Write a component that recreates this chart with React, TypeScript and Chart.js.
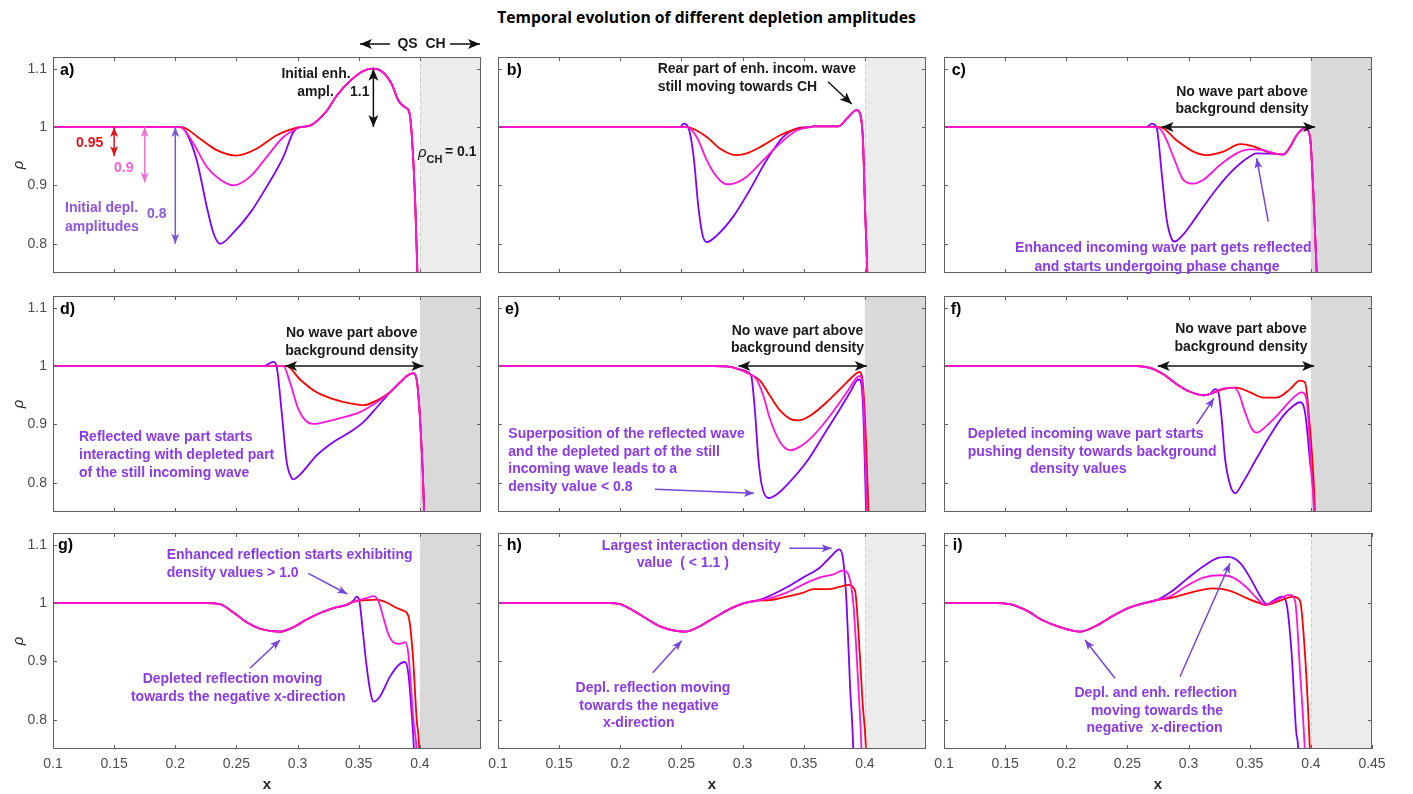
import React, { useEffect, useRef } from 'react';
import { Chart, registerables } from 'chart.js';

Chart.register(...registerables);

type Pt = [number, number];

// ---------- axes ----------
const X_MIN = 0.1;
const X_MAX = 0.45;
const Y_MIN = 0.75;
const Y_MAX = 1.12;
const X_TICKS = [0.1, 0.15, 0.2, 0.25, 0.3, 0.35, 0.4];
const X_TICKS_LAST = [0.1, 0.15, 0.2, 0.25, 0.3, 0.35, 0.4, 0.45];
const Y_TICKS = [0.8, 0.9, 1, 1.1];
const CH_BOUNDARY = 0.4;

// ---------- data (x, rho) ----------
// a)
const aLead: Pt[] = [[0.1, 1], [0.2, 1]];
const aPurpleDip: Pt[] = [[0.204, 1.0], [0.2094, 0.989], [0.2175, 0.9436], [0.2257, 0.864], [0.2311, 0.819], [0.2366, 0.8], [0.2475, 0.819], [0.2612, 0.853], [0.2748, 0.898], [0.2884, 0.949], [0.2966, 0.9915], [0.302, 1.0]];
const aMagentaDip: Pt[] = [[0.204, 1.0], [0.2148, 0.972], [0.2257, 0.932], [0.2366, 0.91], [0.2475, 0.9], [0.2612, 0.915], [0.2748, 0.949], [0.2884, 0.983], [0.2993, 0.997], [0.302, 1.0]];
const aRedDip: Pt[] = [[0.205, 1.0], [0.2202, 0.98], [0.2339, 0.9605], [0.25, 0.951], [0.2666, 0.963], [0.283, 0.986], [0.2993, 0.999], [0.302, 1.0]];
const aTail: Pt[] = [[0.3075, 1.001], [0.3129, 1.0056], [0.3239, 1.028], [0.3321, 1.054], [0.343, 1.079], [0.3538, 1.096], [0.362, 1.1], [0.3702, 1.093], [0.3771, 1.073], [0.3825, 1.045], [0.3879, 1.034], [0.3914, 1.025], [0.3933, 0.989], [0.3961, 0.876], [0.398, 0.751], [0.399, 0.7]];

// b)
const bLead: Pt[] = [[0.1, 1], [0.2488, 1]];
const bPurpleDip: Pt[] = [[0.252, 1.006], [0.2557, 0.999], [0.26, 0.949], [0.2638, 0.864], [0.2674, 0.814], [0.2707, 0.803], [0.2788, 0.814], [0.2925, 0.847], [0.3061, 0.893], [0.3197, 0.9435], [0.3333, 0.983], [0.347, 0.999], [0.3552, 1.0]];
const bMagentaDip: Pt[] = [[0.2543, 1.0], [0.2625, 0.983], [0.2707, 0.9435], [0.2788, 0.915], [0.287, 0.902], [0.2925, 0.903], [0.3034, 0.915], [0.317, 0.9435], [0.3306, 0.972], [0.3443, 0.994], [0.3552, 1.0]];
const bRedDip: Pt[] = [[0.2543, 1.0], [0.2707, 0.983], [0.2816, 0.963], [0.2952, 0.952], [0.3034, 0.955], [0.317, 0.969], [0.3306, 0.986], [0.3443, 0.997], [0.3552, 1.0]];
const bTail: Pt[] = [[0.3579, 1.001], [0.3783, 1.001], [0.3851, 1.014], [0.3933, 1.029], [0.3965, 1.02], [0.3985, 0.975], [0.4001, 0.864], [0.402, 0.75], [0.4025, 0.7]];

// c)
const cLead: Pt[] = [[0.1, 1], [0.2657, 1]];
const cPurpleDip: Pt[] = [[0.27, 1.006], [0.2739, 0.999], [0.278, 0.921], [0.2821, 0.842], [0.2862, 0.808], [0.2885, 0.804], [0.2957, 0.816], [0.3066, 0.847], [0.3203, 0.887], [0.3339, 0.921], [0.3475, 0.946], [0.3557, 0.955], [0.372, 0.954]];
const cMagentaDip: Pt[] = [[0.2739, 1.0], [0.2794, 0.989], [0.2876, 0.949], [0.2957, 0.9096], [0.3039, 0.903], [0.3121, 0.9096], [0.3257, 0.935], [0.3393, 0.955], [0.3502, 0.9616], [0.3611, 0.9605], [0.372, 0.954]];
const cRedDip: Pt[] = [[0.2766, 1.0], [0.2903, 0.977], [0.3039, 0.958], [0.3148, 0.952], [0.3284, 0.958], [0.3421, 0.9706], [0.353, 0.967], [0.3639, 0.958], [0.372, 0.954]];
const cTail: Pt[] = [[0.3775, 0.953], [0.383, 0.966], [0.3884, 0.986], [0.3952, 0.998], [0.3993, 0.983], [0.402, 0.89], [0.4048, 0.75], [0.4055, 0.7]];

// d)
const dLead: Pt[] = [[0.1, 1], [0.272, 1]];
const dPurpleDip: Pt[] = [[0.2802, 1.007], [0.2829, 0.999], [0.287, 0.921], [0.2911, 0.836], [0.2952, 0.808], [0.2965, 0.806], [0.302, 0.814], [0.3156, 0.847], [0.3293, 0.87], [0.3429, 0.887], [0.3538, 0.904], [0.3647, 0.929], [0.3756, 0.955], [0.3838, 0.972]];
const dMagentaDip: Pt[] = [[0.2884, 1.0], [0.2938, 0.972], [0.3006, 0.9266], [0.3074, 0.905], [0.3129, 0.901], [0.3238, 0.905], [0.3374, 0.912], [0.351, 0.921], [0.3647, 0.938], [0.3756, 0.955], [0.3838, 0.972]];
const dRedDip: Pt[] = [[0.2911, 1.0], [0.302, 0.977], [0.3156, 0.955], [0.3293, 0.9435], [0.3429, 0.936], [0.3538, 0.933], [0.3647, 0.941], [0.3756, 0.955], [0.3838, 0.972]];
const dTail: Pt[] = [[0.3893, 0.983], [0.3947, 0.988], [0.3974, 0.977], [0.4007, 0.89], [0.4034, 0.757], [0.404, 0.7]];

// e)
const eLead: Pt[] = [[0.1, 1], [0.276, 1], [0.287, 0.9994], [0.2979, 0.994], [0.3061, 0.986]];
const ePurpleEnd: Pt[] = [[0.3074, 0.98], [0.3102, 0.921], [0.3129, 0.842], [0.3156, 0.797], [0.3211, 0.774], [0.3279, 0.78], [0.3388, 0.802], [0.3524, 0.836], [0.3661, 0.881], [0.3797, 0.9266], [0.3879, 0.955], [0.3933, 0.975], [0.3955, 0.977], [0.3982, 0.9435], [0.401, 0.75], [0.4015, 0.7]];
const eMagentaEnd: Pt[] = [[0.3115, 0.977], [0.317, 0.949], [0.3224, 0.9096], [0.3306, 0.87], [0.3388, 0.856], [0.347, 0.862], [0.3579, 0.881], [0.3715, 0.915], [0.3852, 0.955], [0.3933, 0.98], [0.396, 0.983], [0.3988, 0.9435], [0.4015, 0.75], [0.402, 0.7]];
const eRedEnd: Pt[] = [[0.3143, 0.975], [0.3224, 0.949], [0.3306, 0.924], [0.3388, 0.9096], [0.3456, 0.907], [0.3552, 0.915], [0.3688, 0.938], [0.3824, 0.966], [0.3906, 0.983], [0.3955, 0.99], [0.3988, 0.96], [0.4029, 0.75], [0.4035, 0.7]];

// f)
const fLead: Pt[] = [[0.1, 1], [0.2576, 1], [0.2685, 0.997], [0.2794, 0.986], [0.2903, 0.969], [0.3012, 0.956], [0.3121, 0.95], [0.3175, 0.952]];
const fPurpleEnd: Pt[] = [[0.3216, 0.9605], [0.3244, 0.955], [0.3271, 0.9096], [0.3298, 0.842], [0.3339, 0.797], [0.338, 0.782], [0.3448, 0.802], [0.3557, 0.842], [0.3666, 0.881], [0.3775, 0.915], [0.3857, 0.932], [0.3911, 0.938], [0.3952, 0.921], [0.3993, 0.836], [0.4026, 0.75], [0.403, 0.7]];
const fMagentaEnd: Pt[] = [[0.3284, 0.9616], [0.3366, 0.963], [0.3407, 0.955], [0.3462, 0.921], [0.3516, 0.893], [0.3557, 0.886], [0.3639, 0.898], [0.3748, 0.921], [0.3857, 0.946], [0.3925, 0.955], [0.3966, 0.941], [0.4007, 0.808], [0.4026, 0.75], [0.403, 0.7]];
const fRedEnd: Pt[] = [[0.3284, 0.9605], [0.3393, 0.963], [0.3502, 0.955], [0.3611, 0.946], [0.372, 0.946], [0.383, 0.9605], [0.3911, 0.975], [0.3952, 0.972], [0.3993, 0.893], [0.4034, 0.75], [0.404, 0.7]];

// g)
const gLead: Pt[] = [[0.1, 1], [0.2257, 1], [0.2366, 0.998], [0.2475, 0.984], [0.2584, 0.967], [0.2693, 0.956], [0.2856, 0.951], [0.2965, 0.9586], [0.3074, 0.9717], [0.3184, 0.983], [0.3293, 0.9915], [0.3402, 0.997]];
const gPurpleEnd: Pt[] = [[0.3456, 1.004], [0.3483, 1.011], [0.3505, 1.004], [0.3533, 0.953], [0.3565, 0.891], [0.3598, 0.845], [0.362, 0.831], [0.3674, 0.84], [0.3756, 0.874], [0.3838, 0.896], [0.3879, 0.899], [0.3906, 0.879], [0.3933, 0.811], [0.3952, 0.749], [0.396, 0.7]];
const gMagentaEnd: Pt[] = [[0.3456, 1.002], [0.3565, 1.0085], [0.362, 1.012], [0.366, 1.004], [0.3701, 0.9756], [0.3742, 0.947], [0.3783, 0.933], [0.3838, 0.93], [0.3879, 0.933], [0.3906, 0.913], [0.3947, 0.8], [0.3974, 0.743], [0.398, 0.7]];
const gRedEnd: Pt[] = [[0.3456, 1.002], [0.3565, 1.005], [0.3647, 1.006], [0.3729, 1.001], [0.3811, 0.9915], [0.3865, 0.987], [0.3906, 0.978], [0.3942, 0.913], [0.3974, 0.8], [0.3996, 0.743], [0.4, 0.7]];

// h)
const hLead: Pt[] = [[0.1, 1], [0.1916, 1], [0.1998, 0.998], [0.2107, 0.987], [0.2216, 0.973], [0.2325, 0.96], [0.2434, 0.953], [0.2529, 0.951], [0.2625, 0.9575], [0.2761, 0.974], [0.2897, 0.99], [0.3006, 0.9995], [0.3115, 1.004]];
const hPurpleEnd: Pt[] = [[0.3224, 1.0125], [0.3361, 1.027], [0.3497, 1.044], [0.3633, 1.061], [0.3715, 1.078], [0.3792, 1.092], [0.3824, 1.072], [0.3851, 0.998], [0.3879, 0.857], [0.3906, 0.743], [0.391, 0.7]];
const hMagentaEnd: Pt[] = [[0.3224, 1.0085], [0.3361, 1.018], [0.3497, 1.032], [0.3633, 1.044], [0.3742, 1.049], [0.3824, 1.056], [0.3865, 1.049], [0.3906, 0.998], [0.3947, 0.857], [0.3974, 0.743], [0.398, 0.7]];
const hRedEnd: Pt[] = [[0.3224, 1.005], [0.3361, 1.011], [0.3497, 1.018], [0.3579, 1.024], [0.3715, 1.024], [0.3797, 1.028], [0.3865, 1.031], [0.392, 1.021], [0.3947, 0.953], [0.3982, 0.828], [0.401, 0.743], [0.4015, 0.7]];

// i)
const iLead: Pt[] = [[0.1, 1], [0.1431, 1], [0.154, 0.998], [0.1676, 0.987], [0.1812, 0.97], [0.1949, 0.9586], [0.2112, 0.951], [0.2249, 0.9615], [0.2385, 0.9785], [0.2521, 0.9926], [0.263, 0.9994], [0.2739, 1.005]];
const iPurpleEnd: Pt[] = [[0.2848, 1.018], [0.2985, 1.041], [0.3121, 1.063], [0.323, 1.0765], [0.3325, 1.079], [0.3421, 1.069], [0.3502, 1.0436], [0.3584, 1.0125], [0.3639, 0.998], [0.3693, 1.004], [0.3761, 1.011], [0.3802, 0.998], [0.3843, 0.913], [0.3884, 0.772], [0.3898, 0.743], [0.39, 0.7]];
const iMagentaEnd: Pt[] = [[0.2848, 1.011], [0.2985, 1.0295], [0.3121, 1.0436], [0.3257, 1.0476], [0.3366, 1.0436], [0.3475, 1.0266], [0.3557, 1.0085], [0.3625, 0.997], [0.372, 1.005], [0.383, 1.014], [0.3871, 1.004], [0.3911, 0.885], [0.3952, 0.743], [0.396, 0.7]];
const iRedEnd: Pt[] = [[0.2848, 1.0085], [0.2985, 1.016], [0.3121, 1.023], [0.3203, 1.025], [0.3339, 1.021], [0.3475, 1.0085], [0.3584, 0.9994], [0.3625, 0.9966], [0.3748, 1.004], [0.3857, 1.011], [0.3911, 1.004], [0.3952, 0.913], [0.3993, 0.743], [0.4, 0.7]];

// ---------- styles ----------
const PURPLE = '#8000ff';
const RED = '#ff0000';
const MAGENTA = '#ff14dc';
const TXT_BLACK = '#1a1a1a';
const TXT_PURPLE = '#8a3be6';
const ARR_PURPLE = '#7446d8';
const SHADE_LIGHT = '#ececec';
const SHADE_DARK = '#d9d9d9';
const FONT = "'Liberation Sans', Arial, sans-serif";

const PLOT_W = 428;
const PLOT_H = 216;
const COL_LEFT = [53, 498, 944];
const ROW_TOP = [57, 296, 533];
const PAD_L = 53;
const PAD_T = 45;
const PAD_R = 30;
const PAD_B = 55;

type Note = any;
const T = (t: string, dx: number, dy: number, c = TXT_BLACK, align = 'left', font = `bold 14px ${FONT}`) => ({ k: 't', t, dx, dy, c, align, font });
const A = (x1: number, y1: number, x2: number, y2: number, c = ARR_PURPLE, both = false, data = false) => ({ k: 'a', x1, y1, x2, y2, c, both, data });
const LBL = (t: string, dx: number, dy: number) => T(t, dx, dy, '#000', 'left', `bold 16px ${FONT}`);

const NOTES: Record<string, Note[]> = {
  a: [
    LBL('a)', 7, 14),
    T('QS  CH', 368.5, -13, TXT_BLACK, 'center'),
    A(337, -13, 307, -13, '#111'),
    A(397, -13, 427, -13, '#111'),
    T('Initial enh.', 263, 17, TXT_BLACK, 'center'),
    T('ampl.', 262.5, 34.7, TXT_BLACK, 'center'),
    T('1.1', 297, 34.7),
    A(0.362, 1.1, 0.362, 1.0, '#111', true, true),
    T('ρ', 365, 96, TXT_BLACK, 'left', `italic 15px ${FONT}`),
    T('CH', 373.5, 103, TXT_BLACK, 'left', `bold 11px ${FONT}`),
    T('= 0.1', 392, 95.5),
    T('0.95', 23, 85.7, '#e0141b'),
    A(0.15, 1.0, 0.15, 0.95, '#e0141b', true, true),
    T('0.9', 61, 111, '#f560d6'),
    A(0.175, 1.0, 0.175, 0.905, '#f070d8', true, true),
    T('Initial depl.', 12, 151.3, '#8f55e0'),
    T('amplitudes', 12, 169.7, '#8f55e0'),
    T('0.8', 94, 157.3, '#8a5ad8'),
    A(0.2, 1.0, 0.2, 0.8, '#7d55d0', true, true),
  ],
  b: [
    LBL('b)', 8.7, 14),
    T('Rear part of enh. incom. wave', 159.7, 12.3),
    T('still moving towards CH', 159.7, 30.3),
    A(330, 24.7, 353.7, 47, '#111'),
  ],
  c: [
    LBL('c)', 7.7, 14),
    T('No wave part above', 298, 34.7, TXT_BLACK, 'center'),
    T('background density', 298, 52.3, TXT_BLACK, 'center'),
    A(0.278, 1.0, 0.4035, 1.0, '#111', true, true),
    T('Enhanced incoming wave part gets reflected', 219.3, 191.3, TXT_PURPLE, 'center'),
    T('and starts undergoing phase change', 213, 209.7, TXT_PURPLE, 'center'),
    A(324.3, 164.7, 312.7, 101.3),
  ],
  d: [
    LBL('d)', 7, 14),
    T('No wave part above', 298.7, 36.7, TXT_BLACK, 'center'),
    T('background density', 298.7, 54.7, TXT_BLACK, 'center'),
    A(0.2898, 1.0, 0.4029, 1.0, '#111', true, true),
    T('Reflected wave part starts', 26, 140.7, TXT_PURPLE),
    T('interacting with depleted part', 26, 159, TXT_PURPLE),
    T('of the still incoming wave', 26, 176.7, TXT_PURPLE),
  ],
  e: [
    LBL('e)', 7, 14),
    T('No wave part above', 299.5, 34.7, TXT_BLACK, 'center'),
    T('background density', 299.5, 52.3, TXT_BLACK, 'center'),
    A(0.2966, 1.0, 0.4016, 1.0, '#111', true, true),
    T('Superposition of the reflected wave', 10.3, 138, TXT_PURPLE),
    T('and the depleted part of the still', 10.3, 156, TXT_PURPLE),
    T('incoming wave leads to a', 10.3, 173.3, TXT_PURPLE),
    T('density value < 0.8', 10.3, 191.3, TXT_PURPLE),
    A(157, 193.3, 256, 197.3),
  ],
  f: [
    LBL('f)', 6.7, 14),
    T('No wave part above', 297, 33.3, TXT_BLACK, 'center'),
    T('background density', 297, 50.7, TXT_BLACK, 'center'),
    A(0.2748, 1.0, 0.4027, 1.0, '#111', true, true),
    T('Depleted incoming wave part starts', 23.7, 138, TXT_PURPLE),
    T('pushing density towards background', 23.7, 155.7, TXT_PURPLE),
    T('density values', 86, 173.3, TXT_PURPLE),
    A(252.7, 128, 270, 102.3),
  ],
  g: [
    LBL('g)', 5, 13),
    T('Enhanced reflection starts exhibiting', 113.7, 22, TXT_PURPLE),
    T('density values > 1.0', 113.7, 40.3, TXT_PURPLE),
    A(255.3, 40.3, 294.3, 61),
    T('Depleted reflection moving', 179.5, 146.3, TXT_PURPLE, 'center'),
    T('towards the negative x-direction', 185.3, 163.7, TXT_PURPLE, 'center'),
    A(197, 135.3, 227, 107),
  ],
  h: [
    LBL('h)', 8.7, 13),
    T('Largest interaction density', 193.3, 12.7, TXT_PURPLE, 'center'),
    T('value  ( < 1.1 )', 184.8, 30.3, TXT_PURPLE, 'center'),
    A(291.3, 15.3, 333.7, 15.3),
    T('Depl. reflection moving', 155, 155.3, TXT_PURPLE, 'center'),
    T('towards the negative', 151, 172.7, TXT_PURPLE, 'center'),
    T('x-direction', 140.7, 190.3, TXT_PURPLE, 'center'),
    A(154.7, 139.7, 183.7, 107.7),
  ],
  i: [
    LBL('i)', 8.7, 13),
    T('Depl. and enh. reflection', 211.8, 159.7, TXT_PURPLE, 'center'),
    T('moving towards the', 213, 177.7, TXT_PURPLE, 'center'),
    T('negative  x-direction', 210.5, 195.3, TXT_PURPLE, 'center'),
    A(171, 145.3, 141, 107),
    A(236, 143.7, 286, 30.3),
  ],
};

type Panel = { key: string; row: number; col: number; shade: string; dashed: boolean; purple: Pt[]; red: Pt[]; magenta: Pt[] };

const PANELS: Panel[] = [
  { key: 'a', row: 0, col: 0, shade: SHADE_LIGHT, dashed: true, purple: [...aLead, ...aPurpleDip, ...aTail], red: [...aLead, ...aRedDip, ...aTail], magenta: [...aLead, ...aMagentaDip, ...aTail] },
  { key: 'b', row: 0, col: 1, shade: SHADE_LIGHT, dashed: true, purple: [...bLead, ...bPurpleDip, ...bTail], red: [...bLead, ...bRedDip, ...bTail], magenta: [...bLead, ...bMagentaDip, ...bTail] },
  { key: 'c', row: 0, col: 2, shade: SHADE_DARK, dashed: false, purple: [...cLead, ...cPurpleDip, ...cTail], red: [...cLead, ...cRedDip, ...cTail], magenta: [...cLead, ...cMagentaDip, ...cTail] },
  { key: 'd', row: 1, col: 0, shade: SHADE_DARK, dashed: false, purple: [...dLead, ...dPurpleDip, ...dTail], red: [...dLead, ...dRedDip, ...dTail], magenta: [...dLead, ...dMagentaDip, ...dTail] },
  { key: 'e', row: 1, col: 1, shade: SHADE_DARK, dashed: false, purple: [...eLead, ...ePurpleEnd], red: [...eLead, ...eRedEnd], magenta: [...eLead, ...eMagentaEnd] },
  { key: 'f', row: 1, col: 2, shade: SHADE_DARK, dashed: false, purple: [...fLead, ...fPurpleEnd], red: [...fLead, ...fRedEnd], magenta: [...fLead, ...fMagentaEnd] },
  { key: 'g', row: 2, col: 0, shade: SHADE_DARK, dashed: false, purple: [...gLead, ...gPurpleEnd], red: [...gLead, ...gRedEnd], magenta: [...gLead, ...gMagentaEnd] },
  { key: 'h', row: 2, col: 1, shade: SHADE_LIGHT, dashed: true, purple: [...hLead, ...hPurpleEnd], red: [...hLead, ...hRedEnd], magenta: [...hLead, ...hMagentaEnd] },
  { key: 'i', row: 2, col: 2, shade: SHADE_LIGHT, dashed: true, purple: [...iLead, ...iPurpleEnd], red: [...iLead, ...iRedEnd], magenta: [...iLead, ...iMagentaEnd] },
];

function drawHead(ctx: CanvasRenderingContext2D, fx: number, fy: number, tx: number, ty: number, len: number, half: number) {
  const ang = Math.atan2(ty - fy, tx - fx);
  const c = Math.cos(ang), s = Math.sin(ang);
  ctx.beginPath();
  ctx.moveTo(tx, ty);
  ctx.lineTo(tx - len * c + half * s, ty - len * s - half * c);
  ctx.lineTo(tx - len * 0.75 * c, ty - len * 0.75 * s);
  ctx.lineTo(tx - len * c - half * s, ty - len * s + half * c);
  ctx.closePath();
  ctx.fill();
}

function makePlugin(p: Panel) {
  const xTicks = p.key === 'i' ? X_TICKS_LAST : X_TICKS;
  return {
    id: 'panelDecor',
    beforeDatasetsDraw(chart: any) {
      const { ctx, chartArea: a, scales } = chart;
      const xb = scales.x.getPixelForValue(CH_BOUNDARY);
      ctx.save();
      ctx.fillStyle = p.shade;
      ctx.fillRect(xb, a.top, a.right - xb, a.bottom - a.top);
      if (p.dashed) {
        ctx.strokeStyle = '#cfcfcf';
        ctx.lineWidth = 1;
        ctx.setLineDash([4, 3]);
        ctx.beginPath();
        ctx.moveTo(Math.round(xb) + 0.5, a.top);
        ctx.lineTo(Math.round(xb) + 0.5, a.bottom);
        ctx.stroke();
      }
      ctx.restore();
    },
    afterDatasetsDraw(chart: any) {
      const { ctx, chartArea: a, scales } = chart;
      ctx.save();
      ctx.strokeStyle = '#606060';
      ctx.lineWidth = 1;
      ctx.strokeRect(Math.round(a.left) + 0.5, Math.round(a.top) + 0.5, Math.round(a.right - a.left) - 1, Math.round(a.bottom - a.top) - 1);
      ctx.beginPath();
      xTicks.forEach((v) => {
        const px = Math.round(scales.x.getPixelForValue(v)) + 0.5;
        ctx.moveTo(px, a.bottom);
        ctx.lineTo(px, a.bottom - 4);
        ctx.moveTo(px, a.top);
        ctx.lineTo(px, a.top + 4);
      });
      Y_TICKS.forEach((v) => {
        const py = Math.round(scales.y.getPixelForValue(v)) + 0.5;
        ctx.moveTo(a.left, py);
        ctx.lineTo(a.left + 4, py);
        ctx.moveTo(a.right, py);
        ctx.lineTo(a.right - 4, py);
      });
      ctx.stroke();
      ctx.restore();
    },
    afterDraw(chart: any) {
      const { ctx, chartArea: a, scales } = chart;
      ctx.save();
      ctx.textBaseline = 'middle';
      (NOTES[p.key] || []).forEach((n: Note) => {
        if (n.k === 't') {
          ctx.font = n.font;
          ctx.fillStyle = n.c;
          ctx.textAlign = n.align;
          ctx.fillText(n.t, a.left + n.dx, a.top + n.dy);
        } else {
          let x1, y1, x2, y2;
          if (n.data) {
            x1 = scales.x.getPixelForValue(n.x1);
            y1 = scales.y.getPixelForValue(n.y1);
            x2 = scales.x.getPixelForValue(n.x2);
            y2 = scales.y.getPixelForValue(n.y2);
          } else {
            x1 = a.left + n.x1; y1 = a.top + n.y1; x2 = a.left + n.x2; y2 = a.top + n.y2;
          }
          const black = n.c === '#111';
          const len = black ? 12 : 10;
          const half = black ? 5 : 4;
          ctx.strokeStyle = n.c;
          ctx.fillStyle = n.c;
          ctx.lineWidth = 1.5;
          ctx.beginPath();
          ctx.moveTo(x1, y1);
          ctx.lineTo(x2, y2);
          ctx.stroke();
          drawHead(ctx, x1, y1, x2, y2, len, half);
          if (n.both) drawHead(ctx, x2, y2, x1, y1, len, half);
        }
      });
      ctx.restore();
    },
  };
}

const fmt = (v: any) => String(+(+v).toFixed(3));

function PanelChart({ p }: { p: Panel }) {
  const ref = useRef<HTMLCanvasElement>(null);
  useEffect(() => {
    const xTicks = p.key === 'i' ? X_TICKS_LAST : X_TICKS;
    const tickFont = { family: FONT, size: 14 };
    const mk = (pts: Pt[], color: string) => ({
      data: pts.map(([x, y]) => ({ x, y })),
      borderColor: color,
      backgroundColor: color,
      borderWidth: 1.8,
      pointRadius: 0,
      fill: false,
      cubicInterpolationMode: 'monotone',
    });
    // dataset 0 is painted on top: magenta over red over purple
    const chart = new Chart(ref.current as HTMLCanvasElement, {
      type: 'line',
      data: { datasets: [mk(p.magenta, MAGENTA), mk(p.red, RED), mk(p.purple, PURPLE)] as any },
      options: {
        animation: false,
        responsive: false,
        events: [],
        layout: { padding: { left: 0, top: PAD_T, right: PAD_R, bottom: 0 } },
        plugins: { legend: { display: false }, tooltip: { enabled: false } },
        scales: {
          x: {
            type: 'linear',
            min: X_MIN,
            max: X_MAX,
            grid: { display: false, drawTicks: false },
            border: { display: false },
            afterBuildTicks: (s: any) => { s.ticks = xTicks.map((v) => ({ value: v })); },
            afterFit: (s: any) => { s.height = PAD_B; },
            ticks: { display: p.row === 2, padding: 7, font: tickFont, color: '#4d4d4d', callback: fmt, maxRotation: 0, autoSkip: false },
            title: { display: p.row === 2, text: 'x', color: '#262626', font: { family: FONT, size: 15, weight: 'bold' }, padding: { top: 0, bottom: 10 } },
          },
          y: {
            type: 'linear',
            min: Y_MIN,
            max: Y_MAX,
            grid: { display: false, drawTicks: false },
            border: { display: false },
            afterBuildTicks: (s: any) => { s.ticks = Y_TICKS.map((v) => ({ value: v })); },
            afterFit: (s: any) => { s.width = PAD_L; },
            ticks: { display: p.col === 0, padding: 6, font: tickFont, color: '#4d4d4d', callback: fmt, autoSkip: false },
            title: { display: p.col === 0, text: 'ρ', color: '#262626', font: { family: FONT, size: 15, style: 'italic' }, padding: { top: 10, bottom: 0 } },
          },
        },
      } as any,
      plugins: [makePlugin(p) as any],
    });
    return () => chart.destroy();
  }, [p]);
  return (
    <canvas
      ref={ref}
      width={PAD_L + PLOT_W + PAD_R}
      height={PAD_T + PLOT_H + PAD_B}
      style={{ position: 'absolute', left: COL_LEFT[p.col] - PAD_L, top: ROW_TOP[p.row] - PAD_T, width: PAD_L + PLOT_W + PAD_R, height: PAD_T + PLOT_H + PAD_B }}
    />
  );
}

export default function App() {
  return (
    <div style={{ position: 'fixed', left: 0, top: 0, width: 1413, height: 794, overflow: 'hidden', background: '#ffffff' }}>
      <div style={{ position: 'absolute', left: 0, top: 6, width: 1413, textAlign: 'center', font: "bold 15.7px 'Open Sans', sans-serif", lineHeight: '22px', color: '#000' }}>
        Temporal evolution of different depletion amplitudes
      </div>
      {PANELS.map((p) => (
        <PanelChart key={p.key} p={p} />
      ))}
    </div>
  );
}
